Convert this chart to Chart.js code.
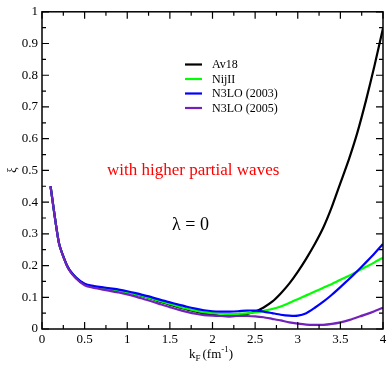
<!DOCTYPE html>
<html>
<head>
<meta charset="utf-8">
<script src="https://cdn.jsdelivr.net/npm/chart.js@4"></script>
<style>
  body { margin: 0; background: #fff; }
  canvas { display: block; }
</style>
</head>
<body>
<canvas id="chart" width="391" height="370"></canvas>
<script>
// k_F grid (fm^-1)
const kF = [0.1, 0.2, 0.3, 0.4, 0.5, 0.6, 0.7, 0.8, 0.9, 1.0,
            1.1, 1.2, 1.3, 1.4, 1.5, 1.6, 1.7, 1.8, 1.9, 2.0,
            2.1, 2.2, 2.3, 2.4, 2.5, 2.6, 2.7, 2.8, 2.9, 3.0,
            3.1, 3.2, 3.3, 3.4, 3.5, 3.6, 3.7, 3.8, 3.9, 4.0];

const av18 = [0.45, 0.27, 0.196, 0.161, 0.141, 0.133, 0.129, 0.125, 0.121, 0.116,
              0.110, 0.102, 0.094, 0.085, 0.077, 0.069, 0.062, 0.055, 0.049, 0.045,
              0.041, 0.040, 0.042, 0.047, 0.055, 0.068, 0.086, 0.112, 0.143, 0.180,
              0.222, 0.268, 0.320, 0.385, 0.460, 0.535, 0.620, 0.720, 0.830, 0.948];

const nijII = [0.45, 0.27, 0.196, 0.161, 0.141, 0.133, 0.129, 0.125, 0.121, 0.116,
               0.110, 0.103, 0.095, 0.087, 0.079, 0.071, 0.064, 0.058, 0.053, 0.050,
               0.048, 0.047, 0.048, 0.049, 0.052, 0.057, 0.063, 0.071, 0.082, 0.094,
               0.106, 0.118, 0.130, 0.142, 0.155, 0.168, 0.182, 0.196, 0.210, 0.225];

const n3lo2003 = [0.45, 0.27, 0.197, 0.162, 0.143, 0.136, 0.132, 0.128, 0.124, 0.119,
                  0.113, 0.106, 0.099, 0.091, 0.084, 0.077, 0.070, 0.064, 0.059, 0.056,
                  0.055, 0.055, 0.056, 0.058, 0.058, 0.055, 0.050, 0.045, 0.042, 0.042,
                  0.050, 0.067, 0.086, 0.108, 0.132, 0.157, 0.183, 0.210, 0.238, 0.268];

const n3lo2005 = [0.45, 0.268, 0.195, 0.159, 0.138, 0.130, 0.125, 0.120, 0.115, 0.109,
                  0.102, 0.094, 0.086, 0.077, 0.069, 0.061, 0.054, 0.048, 0.044, 0.042,
                  0.041, 0.041, 0.041, 0.041, 0.040, 0.037, 0.032, 0.027, 0.021, 0.017,
                  0.014, 0.013, 0.013, 0.016, 0.021, 0.028, 0.037, 0.046, 0.056, 0.067];

const seriesNames = ['Av18', 'NijII', 'N3LO (2003)', 'N3LO (2005)'];
const seriesColors = ['#000000', '#00ff00', '#0000ff', '#7221bc'];

// tick labels
const xTicks = [0, 0.5, 1, 1.5, 2, 2.5, 3, 3.5, 4];
const yTicks = [0, 0.1, 0.2, 0.3, 0.4, 0.5, 0.6, 0.7, 0.8, 0.9, 1];

const serif = "'Liberation Serif', 'DejaVu Serif', serif";

function toPoints(ys) {
    return kF.map((k, i) => ({ x: k, y: ys[i] }));
}

// frame, inward ticks (major + minor) on all four sides
const framePlugin = {
    id: 'frame',
    afterDatasetsDraw(chart) {
        const ctx = chart.ctx;
        const a = chart.chartArea;
        const xs = chart.scales.x, ys = chart.scales.y;
        ctx.save();
        ctx.strokeStyle = '#000';
        ctx.lineWidth = 1.5;
        ctx.strokeRect(a.left, a.top, a.right - a.left, a.bottom - a.top);
        ctx.lineWidth = 1.2;
        ctx.beginPath();
        xTicks.forEach((v, i) => {
            const px = xs.getPixelForValue(v);
            ctx.moveTo(px, a.bottom); ctx.lineTo(px, a.bottom - 7);
            ctx.moveTo(px, a.top); ctx.lineTo(px, a.top + 7);
            if (i < xTicks.length - 1) {
                const m = xs.getPixelForValue((v + xTicks[i + 1]) / 2);
                ctx.moveTo(m, a.bottom); ctx.lineTo(m, a.bottom - 4);
                ctx.moveTo(m, a.top); ctx.lineTo(m, a.top + 4);
            }
        });
        yTicks.forEach((v, i) => {
            const py = ys.getPixelForValue(v);
            ctx.moveTo(a.left, py); ctx.lineTo(a.left + 7, py);
            ctx.moveTo(a.right, py); ctx.lineTo(a.right - 7, py);
            if (i < yTicks.length - 1) {
                const m = ys.getPixelForValue((v + yTicks[i + 1]) / 2);
                ctx.moveTo(a.left, m); ctx.lineTo(a.left + 4, m);
                ctx.moveTo(a.right, m); ctx.lineTo(a.right - 4, m);
            }
        });
        ctx.stroke();
        ctx.restore();
    }
};

// legend, annotations and axis titles
const textPlugin = {
    id: 'texts',
    afterDraw(chart) {
        const ctx = chart.ctx;
        ctx.save();

        // legend
        ctx.font = '12px ' + serif;
        ctx.textBaseline = 'middle';
        ctx.textAlign = 'left';
        chart.data.datasets.forEach((ds, i) => {
            const y = 64.5 + i * 14.5;
            ctx.strokeStyle = ds.borderColor;
            ctx.lineWidth = 2.2;
            ctx.beginPath();
            ctx.moveTo(185, y); ctx.lineTo(202, y);
            ctx.stroke();
            ctx.fillStyle = '#000';
            ctx.fillText(ds.label, 212, y + 0.5);
        });

        // annotations
        ctx.textBaseline = 'alphabetic';
        ctx.fillStyle = '#ff0000';
        ctx.font = '17px ' + serif;
        ctx.fillText('with higher partial waves', 107, 175);
        ctx.fillStyle = '#000';
        ctx.font = '18px ' + serif;
        ctx.fillText('\u03bb = 0', 172, 230);

        // x title: k_F (fm^-1)
        ctx.font = '13px ' + serif;
        let x = 189;
        const yb = 358;
        ctx.fillText('k', x, yb); x += ctx.measureText('k').width;
        ctx.font = '9px ' + serif;
        ctx.fillText('F', x, yb + 3); x += ctx.measureText('F').width + 2;
        ctx.font = '13px ' + serif;
        ctx.fillText('(fm', x, yb); x += ctx.measureText('(fm').width;
        ctx.font = '9px ' + serif;
        ctx.fillText('-1', x, yb - 6); x += ctx.measureText('-1').width;
        ctx.font = '13px ' + serif;
        ctx.fillText(')', x, yb);

        // y title: xi, rotated
        ctx.translate(13, 170);
        ctx.rotate(-Math.PI / 2);
        ctx.font = '12px ' + serif;
        ctx.textAlign = 'center';
        ctx.textBaseline = 'middle';
        ctx.fillText('\u03be', 0, 0);
        ctx.restore();
    }
};

// later series are drawn on top (Av18 lowest, N3LO 2005 highest)
const datasets = [av18, nijII, n3lo2003, n3lo2005].map((ys, i) => ({
    label: seriesNames[i],
    data: toPoints(ys),
    borderColor: seriesColors[i],
    backgroundColor: seriesColors[i],
    borderWidth: 2.2,
    pointRadius: 0,
    tension: 0.2,
    fill: false,
    order: 3 - i
}));

new Chart(document.getElementById('chart'), {
    type: 'line',
    data: { datasets: datasets },
    options: {
        responsive: false,
        animation: false,
        devicePixelRatio: 1,
        layout: { padding: { top: 9.5, right: 8, left: 0, bottom: 0 } },
        plugins: {
            legend: { display: false },
            tooltip: { enabled: false }
        },
        scales: {
            x: {
                type: 'linear',
                min: 0, max: 4,
                afterBuildTicks: s => { s.ticks = xTicks.map(v => ({ value: v })); },
                afterFit: s => { s.height = 41; },
                grid: { display: false, drawTicks: false },
                border: { display: false },
                ticks: {
                    color: '#000',
                    padding: 3,
                    maxRotation: 0,
                    font: { family: serif, size: 13 },
                    callback: v => String(v)
                }
            },
            y: {
                type: 'linear',
                min: 0, max: 1,
                afterBuildTicks: s => { s.ticks = yTicks.map(v => ({ value: v })); },
                afterFit: s => { s.width = 42; },
                grid: { display: false, drawTicks: false },
                border: { display: false },
                ticks: {
                    color: '#000',
                    padding: 4,
                    font: { family: serif, size: 13 },
                    callback: v => String(Math.round(v * 10) / 10)
                }
            }
        }
    },
    plugins: [framePlugin, textPlugin]
});
</script>
</body>
</html>
